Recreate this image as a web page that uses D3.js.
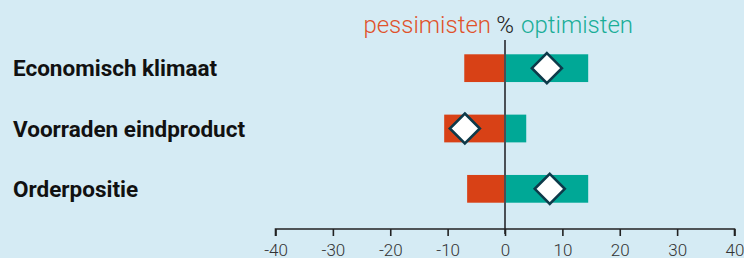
<!DOCTYPE html>
<html>
<head>
<meta charset="utf-8">
<script src="https://cdn.jsdelivr.net/npm/d3@7"></script>
<style>
  html, body { margin: 0; padding: 0; background: #d5ebf4; }
  svg { display: block; font-family: Roboto, "Noto Sans", sans-serif; }
</style>
</head>
<body>
<div id="chart"></div>
<script>
// data
var categories = ["Economisch klimaat", "Voorraden eindproduct", "Orderpositie"];
var pessimists = [-7.1, -10.6, -6.6];
var optimists = [14.5, 3.7, 14.5];
var balance = [7.3, -7.0, 7.8];
var tickValues = [-40, -30, -20, -10, 0, 10, 20, 30, 40];

var svgWidth = 744;
var svgHeight = 258;

var svg = d3.select("#chart")
    .append("svg")
    .attr("width", svgWidth)
    .attr("height", svgHeight);

var x = d3.scaleLinear()
    .domain([-40, 40])
    .range([275.5, 734.5]);

var y = d3.scaleBand()
    .domain(categories)
    .range([38, 219])
    .paddingInner(0.54)
    .paddingOuter(0.27);

var rows = categories.map(function(c, i) {
    return { cat: c, neg: pessimists[i], pos: optimists[i], bal: balance[i] };
});

// category labels
svg.selectAll(".cat-label")
    .data(rows)
    .enter()
    .append("text")
    .attr("class", "cat-label")
    .attr("x", 13)
    .attr("y", d => y(d.cat) + y.bandwidth() / 2)
    .attr("dy", "0.36em")
    .style("font-size", "22.5px")
    .style("font-weight", "bold")
    .attr("fill", "#111")
    .text(d => d.cat);

// pessimist bars
svg.selectAll(".neg")
    .data(rows)
    .enter()
    .append("rect")
    .attr("class", "neg")
    .attr("x", d => x(d.neg))
    .attr("y", d => y(d.cat))
    .attr("width", d => x(0) - x(d.neg))
    .attr("height", y.bandwidth())
    .attr("fill", "#d84116");

// optimist bars
svg.selectAll(".pos")
    .data(rows)
    .enter()
    .append("rect")
    .attr("class", "pos")
    .attr("x", x(0))
    .attr("y", d => y(d.cat))
    .attr("width", d => x(d.pos) - x(0))
    .attr("height", y.bandwidth())
    .attr("fill", "#00a896");

// zero line
svg.append("line")
    .attr("x1", x(0))
    .attr("x2", x(0))
    .attr("y1", 40)
    .attr("y2", 234)
    .attr("stroke", "#4a4f55")
    .attr("stroke-width", 2);

// balance diamonds
svg.selectAll(".diamond")
    .data(rows)
    .enter()
    .append("path")
    .attr("class", "diamond")
    .attr("transform", d => `translate(${x(d.bal)},${y(d.cat) + y.bandwidth() / 2})`)
    .attr("d", "M0,-15 L15,0 L0,15 L-15,0 Z")
    .attr("fill", "#fff")
    .attr("stroke", "#0d3a4a")
    .attr("stroke-width", 2.6)
    .attr("stroke-linejoin", "miter");

// x axis
var axis = svg.append("g")
    .attr("transform", "translate(0,229)")
    .call(d3.axisBottom(x).tickValues(tickValues).tickSize(7).tickPadding(8).tickFormat(d3.format("d")));

axis.select(".domain")
    .attr("d", `M${x(-40)},7V0H${x(40)}V7`)
    .attr("stroke", "#222")
    .attr("stroke-width", 1.6);
axis.selectAll(".tick line")
    .attr("stroke", "#222")
    .attr("stroke-width", 1.6);
axis.selectAll(".tick text")
    .style("font-size", "17px")
    .style("font-weight", "300")
    .style("font-family", "Roboto, sans-serif")
    .attr("fill", "#333")
    .text(d => String(d));

// header above the zero line
var header = svg.append("g")
    .style("font-size", "24px")
    .style("font-weight", "300");

header.append("text")
    .attr("x", x(0))
    .attr("y", 33)
    .attr("text-anchor", "middle")
    .attr("fill", "#222")
    .text("%");

header.append("text")
    .attr("x", x(0) - 14)
    .attr("y", 33)
    .attr("text-anchor", "end")
    .attr("fill", "#e0522a")
    .text("pessimisten");

header.append("text")
    .attr("x", x(0) + 16)
    .attr("y", 33)
    .attr("text-anchor", "start")
    .attr("fill", "#1aae98")
    .text("optimisten");
</script>
</body>
</html>
